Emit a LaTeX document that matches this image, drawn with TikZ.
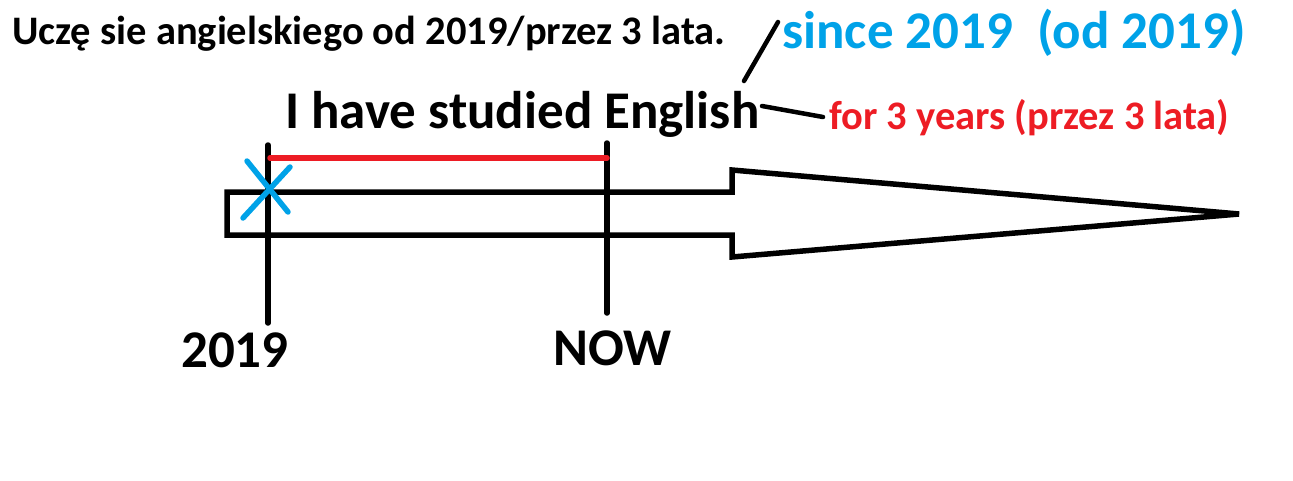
\documentclass[tikz,border=0pt]{standalone}
\usepackage{fontspec}
\setmainfont{Carlito}
\usepackage{xcolor}
\definecolor{paintblue}{RGB}{0,162,232}
\definecolor{paintred}{RGB}{237,28,36}
\tikzstyle{bigtext} = [font=\bfseries\fontsize{53}{60}\selectfont, inner sep=0pt, anchor=base west]
\tikzstyle{smalltext} = [font=\bfseries\fontsize{40.5}{46}\selectfont, inner sep=0pt, anchor=base west]
\tikzstyle{pen} = [line width=5.5pt, line cap=round, line join=round]

\begin{document}
\begin{tikzpicture}[x=1pt, y=-1pt]
\useasboundingbox (0,0) rectangle (1293,480);
% sentence in Polish
\node[smalltext] (pl) at (12,44) {Uczę sie angielskiego od 2019/przez 3 lata.};
\node[bigtext] (sentence) at (285,128) {I have studied English};
\node[bigtext, text=paintblue] (since) at (782,48) {since 2019 \ (od 2019)};
\node[smalltext, text=paintred] (for) at (829,129) {for 3 years (przez 3 lata)};
\node[bigtext] (start) at (181,367) {2019};
\node[bigtext] (now) at (553,365) {NOW};
% the time line
\draw[pen, line cap=butt, line join=miter] (732,192) -- (227,192) -- (227,235) -- (732,235)
    -- (732,257) -- (1239,214) -- (732,170) -- cycle;
\coordinate (start top) at (268,145);
\coordinate (start bottom) at (268,323);
\coordinate (now top) at (607,143);
\coordinate (now bottom) at (607,313);
\draw[pen] (start top) -- (start bottom);
\draw[pen] (now top) -- (now bottom);
\draw[pen, paintred] (270,158) -- (now top |- 0,158);
% cross
\draw[pen, paintblue] (247,161) -- (288,212);
\draw[pen, paintblue] (290,167) -- (243,218);
% connectors
\coordinate (a1) at (744,81);
\coordinate (a2) at (778,22);
\coordinate (b1) at (762,106);
\coordinate (b2) at (823,117);
\draw[pen, line width=4.5pt] (a1) -- (a2);
\draw[pen, line width=4.5pt] (b1) -- (b2);
\end{tikzpicture}
\end{document}
